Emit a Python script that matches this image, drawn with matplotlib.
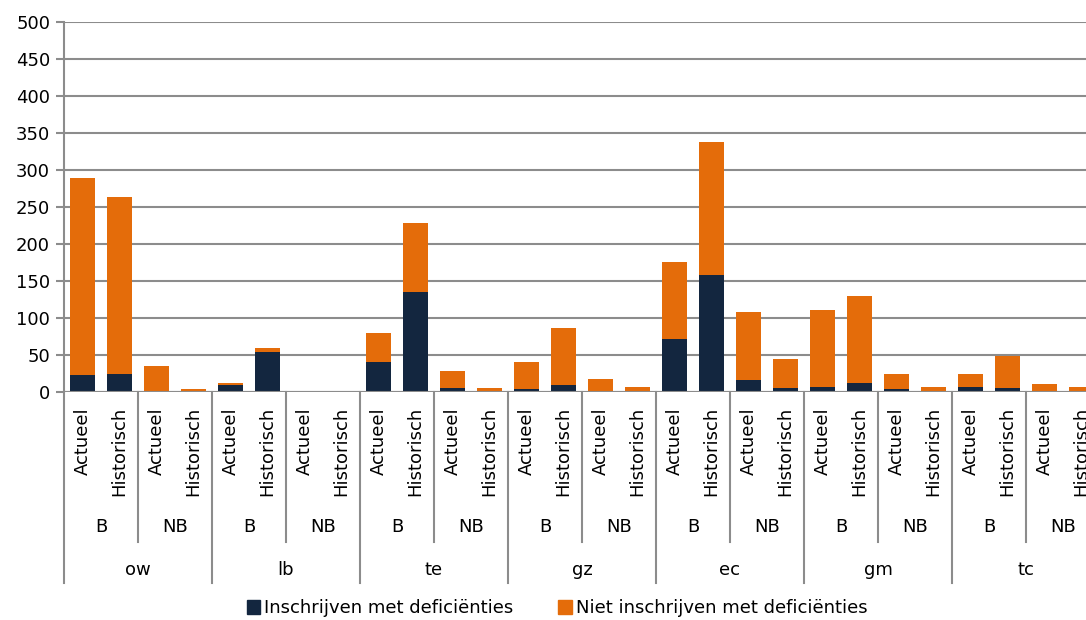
import matplotlib
matplotlib.use('Agg')
import matplotlib.pyplot as plt
import matplotlib.patches as mpatches
import numpy as np

plt.rcParams['font.family'] = ['DejaVu Sans']

# data
groups = ['ow', 'lb', 'te', 'gz', 'ec', 'gm', 'tc']
subgroups = ['B', 'NB']
periods = ['Actueel', 'Historisch']

# per group: B-Actueel, B-Historisch, NB-Actueel, NB-Historisch
met_def = [23, 24, 0, 0,
           10, 54, 0, 0,
           40, 135, 5, 0,
           4, 10, 0, 0,
           72, 158, 16, 5,
           7, 12, 4, 0,
           7, 5, 0, 1]
totals = [289, 264, 35, 4,
          12, 59, 0, 0,
          80, 228, 29, 5,
          40, 86, 18, 7,
          176, 338, 108, 45,
          111, 130, 24, 7,
          24, 49, 11, 7]
niet_met_def = [t - m for t, m in zip(totals, met_def)]

c_dark = '#13263f'
c_orange = '#e46c0a'
c_grid = '#8c8c8c'

fig = plt.figure(figsize=(10.86, 6.2), dpi=100)
ax = fig.add_axes([64 / 1086, 228 / 620, 1036 / 1086, 370 / 620])

x = np.arange(len(totals))
ax.bar(x, met_def, width=0.65, color=c_dark, zorder=3)
ax.bar(x, niet_met_def, width=0.65, bottom=met_def, color=c_orange, zorder=3)

ax.set_xlim(-0.5, len(totals) - 0.5)
ax.set_ylim(0, 500)
ax.set_yticks(range(0, 501, 50))
ax.yaxis.grid(True, color=c_grid, lw=1.5, zorder=0)
ax.set_axisbelow(True)
ax.tick_params(axis='y', labelsize=13, length=6, width=1.5, color=c_grid, pad=4)
ax.set_xticks([])
for s in ['top', 'right', 'bottom']:
    ax.spines[s].set_visible(False)
ax.spines['left'].set_color(c_grid)
ax.spines['left'].set_linewidth(1.5)
ax.spines['left'].set_bounds(0, 500)

tr = ax.get_xaxis_transform()
h = 370.0
# level labels
for i, xi in enumerate(x):
    ax.text(xi, -15 / h, periods[i % 2], rotation=90, ha='center', va='top',
            fontsize=13, transform=tr, clip_on=False)
for g in range(len(groups)):
    for s in range(2):
        ax.text(4 * g + 2 * s + 0.5, -135 / h, subgroups[s], ha='center', va='center',
                fontsize=13, transform=tr, clip_on=False)
    ax.text(4 * g + 1.5, -178 / h, groups[g], ha='center', va='center',
            fontsize=13, transform=tr, clip_on=False)

# separator lines
for g in range(len(groups) + 1):
    ax.plot([4 * g - 0.5] * 2, [0, -191 / h], color=c_grid, lw=1.5,
            transform=tr, clip_on=False)
    if g < len(groups):
        ax.plot([4 * g + 1.5] * 2, [0, -150 / h], color=c_grid, lw=1.5,
                transform=tr, clip_on=False)
ax.axhline(0, color=c_grid, lw=1.5, zorder=4)

handles = [mpatches.Patch(color=c_dark, label='Inschrijven met deficiënties'),
           mpatches.Patch(color=c_orange, label='Niet inschrijven met deficiënties')]
fig.legend(handles=handles, loc='center', bbox_to_anchor=(0.513, 0.019), ncol=2,
           frameon=False, fontsize=13, handlelength=0.75, handleheight=0.75,
           handletextpad=0.2, columnspacing=2.5)

fig.savefig('out.png', dpi=100)
